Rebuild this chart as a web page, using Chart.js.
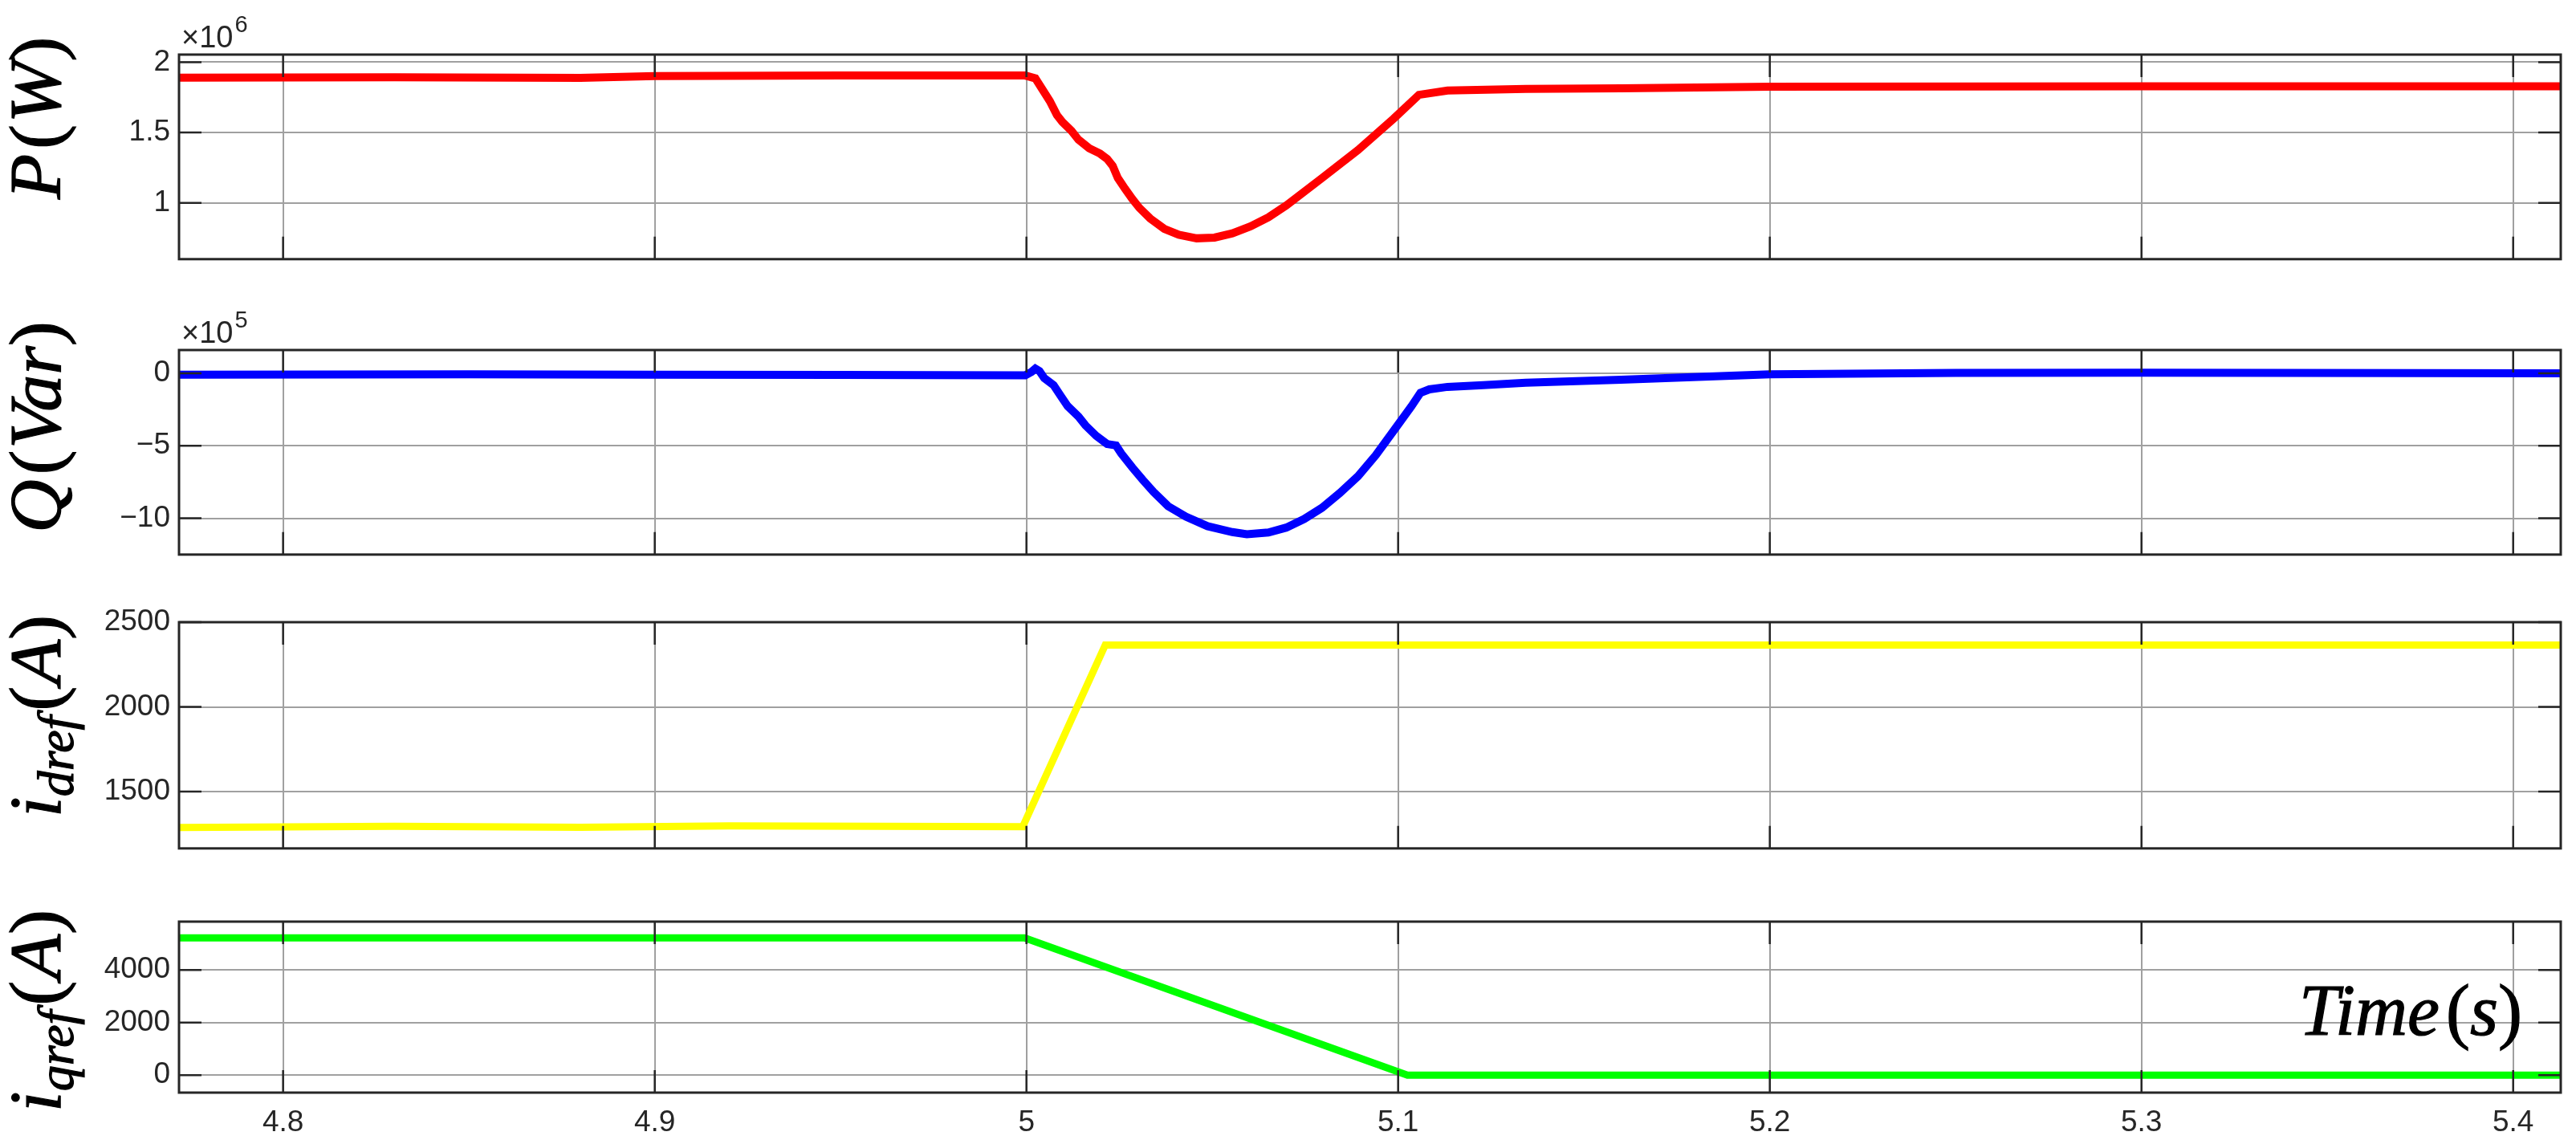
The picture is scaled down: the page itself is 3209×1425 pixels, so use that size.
<!DOCTYPE html>
<html>
<head>
<meta charset="utf-8">
<title>P, Q, idref, iqref</title>
<script src="https://cdn.jsdelivr.net/npm/chart.js@4.4.1/dist/chart.umd.min.js"></script>
<style>
  html, body { margin: 0; padding: 0; background: #fff; overflow: hidden; }
  #wrap { position: relative; width: 3209px; height: 1425px; }
  canvas { position: absolute; left: 0; }
</style>
</head>
<body>
<div id="wrap">
  <canvas id="cP"></canvas>
  <canvas id="cQ"></canvas>
  <canvas id="cD"></canvas>
  <canvas id="cR"></canvas>
</div>
<script>
// shared time axis
const xMin = 4.772, xMax = 5.4128;
const xTicks = [4.8, 4.9, 5.0, 5.1, 5.2, 5.3, 5.4];

// P (W), values in units of 1e6
const tP = [4.772, 4.83, 4.88, 4.9, 4.95, 4.9997, 5.0024, 5.0039, 5.0063, 5.0082, 5.0097, 5.0121, 5.0140, 5.0169,
  5.0198, 5.0217, 5.0232, 5.0246, 5.0265, 5.0285, 5.0304, 5.0333, 5.0371, 5.0410, 5.0458, 5.0506, 5.0554, 5.0603,
  5.0651, 5.0699, 5.0795, 5.0892, 5.0988, 5.1056, 5.1133, 5.1343, 5.16, 5.2, 5.3, 5.4128];
const pW = [1.890, 1.893, 1.889, 1.902, 1.905, 1.905, 1.885, 1.823, 1.723, 1.624, 1.574, 1.512, 1.449, 1.388,
  1.350, 1.313, 1.263, 1.176, 1.101, 1.027, 0.964, 0.889, 0.815, 0.773, 0.748, 0.753, 0.783, 0.833,
  0.897, 0.982, 1.176, 1.375, 1.599, 1.768, 1.798, 1.810, 1.815, 1.826, 1.828, 1.828];
const pTicks = [1, 1.5, 2];

// Q (Var), values in units of 1e5
const tQ = [4.772, 4.85, 4.9, 4.95, 4.9997, 5.0014, 5.0024, 5.0035, 5.0048, 5.0073, 5.0092, 5.0111, 5.0140, 5.0159,
  5.0188, 5.0217, 5.0241, 5.0255, 5.0285, 5.0313, 5.0342, 5.0381, 5.0429, 5.0487, 5.0554, 5.0593, 5.0651, 5.0699,
  5.0747, 5.0795, 5.0843, 5.0892, 5.0940, 5.0988, 5.1036, 5.1060, 5.1084, 5.1133, 5.1229, 5.1343, 5.16, 5.2,
  5.25, 5.3, 5.4128];
const qVar = [-0.10, -0.08, -0.10, -0.12, -0.14, 0.10, 0.32, 0.15, -0.34, -0.82, -1.55, -2.27, -2.99, -3.60,
  -4.32, -4.88, -4.98, -5.53, -6.50, -7.35, -8.19, -9.16, -9.88, -10.54, -10.95, -11.10, -10.98, -10.64,
  -10.05, -9.28, -8.26, -7.10, -5.65, -3.96, -2.27, -1.35, -1.11, -0.94, -0.82, -0.65, -0.45, -0.07,
  0.02, 0.03, 0.0];
const qTicks = [-10, -5, 0];

// i_dref (A)
const tD = [4.772, 4.83, 4.88, 4.92, 4.96, 4.999, 5.0212, 5.2, 5.4128];
const idref = [1288, 1296, 1290, 1298, 1296, 1293, 2365, 2365, 2365];
const dTicks = [1500, 2000, 2500];

// i_qref (A)
const tR = [4.772, 4.9, 4.9995, 5.1025, 5.2, 5.4128];
const iqref = [5220, 5220, 5220, 0, 0, 0];
const rTicks = [0, 2000, 4000];

const tickFont = { family: "'Liberation Sans', Arial, sans-serif", size: 37 };
const textColor = '#262626';
const gridColor = '#a0a0a0';

function fmt(v) {
  v = Math.round(v * 1000) / 1000;
  return v < 0 ? '\u2212' + Math.abs(v) : String(v);
}

// draws a run of [text, italic, isSub, gapAfter] pieces; rotated when vertical
function drawRuns(ctx, runs, size, x, y, vertical, align) {
  const fam = "'Liberation Serif', 'DejaVu Serif', serif";
  const fontOf = r => (r[1] ? 'italic ' : '') + Math.round(r[2] ? size * 0.7 : size) + 'px ' + fam;
  let w = 0;
  runs.forEach(r => { ctx.font = fontOf(r); w += ctx.measureText(r[0]).width + (r[3] || 0); });
  ctx.save();
  ctx.translate(x, y);
  if (vertical) ctx.rotate(-Math.PI / 2);
  ctx.fillStyle = '#000';
  ctx.strokeStyle = '#000';
  ctx.lineWidth = 1.2;
  ctx.textBaseline = 'alphabetic';
  ctx.textAlign = 'left';
  let cx = align === 'center' ? -w / 2 : 0;
  runs.forEach(r => {
    ctx.font = fontOf(r);
    const dy = r[2] ? size * 0.17 : 0;
    ctx.fillText(r[0], cx, dy);
    ctx.strokeText(r[0], cx, dy);
    cx += ctx.measureText(r[0]).width + (r[3] || 0);
  });
  ctx.restore();
}

const boxPlugin = {
  id: 'matlabBox',
  afterDraw(chart, args, o) {
    const { ctx, chartArea: a } = chart;
    const p = o.panel;
    const tl = 28;
    ctx.save();
    ctx.strokeStyle = textColor;
    ctx.lineWidth = 2.5;
    ctx.beginPath();
    chart.scales.x.ticks.forEach(t => {
      const x = chart.scales.x.getPixelForValue(t.value);
      ctx.moveTo(x, a.top); ctx.lineTo(x, a.top + tl);
      ctx.moveTo(x, a.bottom); ctx.lineTo(x, a.bottom - tl);
    });
    chart.scales.y.ticks.forEach(t => {
      const y = chart.scales.y.getPixelForValue(t.value);
      ctx.moveTo(a.left, y); ctx.lineTo(a.left + tl, y);
      ctx.moveTo(a.right, y); ctx.lineTo(a.right - tl, y);
    });
    ctx.stroke();
    ctx.lineWidth = 3;
    ctx.strokeRect(a.left, a.top, a.right - a.left, a.bottom - a.top);

    // exponent label
    if (p.expo) {
      ctx.fillStyle = textColor;
      ctx.textAlign = 'left';
      ctx.textBaseline = 'alphabetic';
      ctx.font = "38px 'Liberation Sans', Arial, sans-serif";
      ctx.fillText('\u00d710', a.left + 3, a.top - 9);
      const w = ctx.measureText('\u00d710').width;
      ctx.font = "29px 'Liberation Sans', Arial, sans-serif";
      ctx.fillText(p.expo, a.left + 5 + w, a.top - 28);
    }
    // y label
    drawRuns(ctx, p.label, 92, 75, p.labelY - p.canvasTop, true, 'center');
    // time label
    if (p.timeLabel) drawRuns(ctx, p.timeLabel, 90, 2864, 1289 - p.canvasTop, false, 'left');
    ctx.restore();
  }
};

const panels = [
  { id: 'cP', top: 68, bottom: 336, padTop: 60, t: tP, v: pW, scale: 1e6, yMin: 0.6, yMax: 2.054, yTicks: pTicks,
    color: '#ff0000', width: 10, expo: '6', labelY: 147, label: [['P', 1, 0, 6], ['(', 0, 0, 2], ['W', 1], [')', 0]] },
  { id: 'cQ', top: 436, bottom: 704, padTop: 60, t: tQ, v: qVar, scale: 1e5, yMin: -12.5, yMax: 1.6, yTicks: qTicks,
    color: '#0000ff', width: 10, expo: '5', labelY: 532, label: [['Q', 1, 0, 6], ['(', 0, 0, 2], ['Var', 1], [')', 0]] },
  { id: 'cD', top: 775, bottom: 1070, padTop: 40, t: tD, v: idref, scale: 1, yMin: 1165, yMax: 2500, yTicks: dTicks,
    color: '#ffff00', width: 9, labelY: 892, label: [['i', 1], ['dref', 1, 1, 6], ['(', 0, 0, 2], ['A', 1], [')', 0]] },
  { id: 'cR', top: 1148, bottom: 1361, padTop: 40, t: tR, v: iqref, scale: 1, yMin: -666, yMax: 5838, yTicks: rTicks,
    color: '#00ff00', width: 9, labelY: 1259, label: [['i', 1], ['qref', 1, 1, 6], ['(', 0, 0, 2], ['A', 1], [')', 0]],
    showX: true, timeLabel: [['Time', 1, 0, 8], ['(', 0], ['s', 1], [')', 0]] }
];

panels.forEach(p => {
  const xAxisH = p.showX ? 64 : 0;
  const padBottom = p.showX ? 0 : 20;
  p.canvasTop = p.top - p.padTop;
  const h = (p.bottom - p.top) + p.padTop + xAxisH + padBottom;
  const cv = document.getElementById(p.id);
  cv.width = 3209;
  cv.height = h;
  cv.style.top = p.canvasTop + 'px';

  new Chart(cv.getContext('2d'), {
    type: 'line',
    data: {
      datasets: [{
        data: p.t.map((x, i) => ({ x: x, y: p.v[i] * p.scale })),
        borderColor: p.color,
        borderWidth: p.width,
        pointRadius: 0,
        fill: false,
        tension: 0
      }]
    },
    options: {
      responsive: false,
      animation: false,
      events: [],
      layout: { padding: { top: p.padTop, right: 19, bottom: padBottom, left: 0 } },
      plugins: { legend: { display: false }, tooltip: { enabled: false }, matlabBox: { panel: p } },
      scales: {
        x: {
          type: 'linear',
          min: xMin,
          max: xMax,
          afterBuildTicks: s => { s.ticks = xTicks.map(v => ({ value: v })); },
          afterFit: s => { s.height = xAxisH; },
          ticks: { display: !!p.showX, font: tickFont, color: textColor, padding: 16, maxRotation: 0,
                   autoSkip: false, callback: v => fmt(v) },
          grid: { color: gridColor, lineWidth: 2, drawTicks: false },
          border: { display: false }
        },
        y: {
          type: 'linear',
          min: p.yMin * p.scale,
          max: p.yMax * p.scale,
          afterBuildTicks: s => { s.ticks = p.yTicks.map(v => ({ value: v * p.scale })); },
          afterFit: s => { s.width = 223; },
          ticks: { font: tickFont, color: textColor, padding: 11, callback: v => fmt(v / p.scale) },
          grid: { color: gridColor, lineWidth: 2, drawTicks: false },
          border: { display: false }
        }
      }
    },
    plugins: [boxPlugin]
  });
});
</script>
</body>
</html>
